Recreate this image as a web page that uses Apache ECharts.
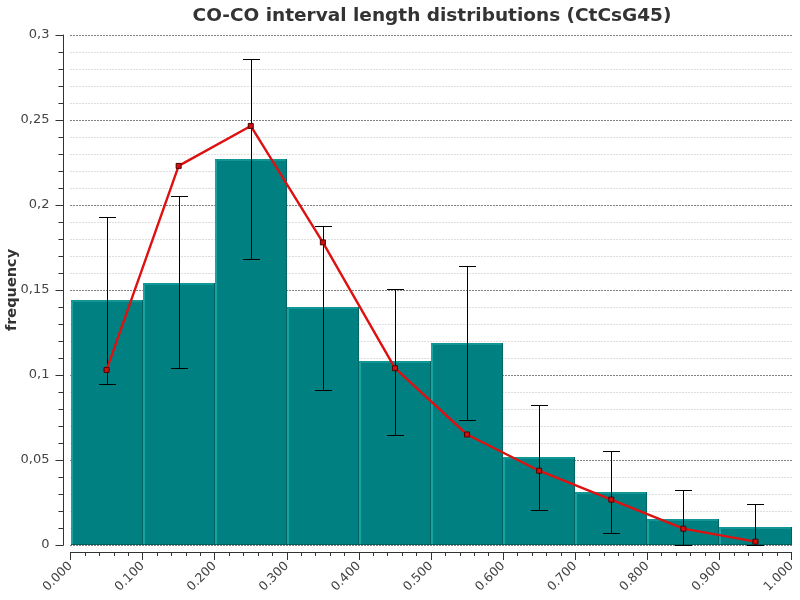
<!DOCTYPE html>
<html>
<head>
<meta charset="utf-8">
<script src="https://cdn.jsdelivr.net/npm/echarts@6/dist/echarts.min.js"></script>
<style>html,body{margin:0;padding:0;background:#fff}#c{width:800px;height:600px}</style>
</head>
<body>
<div id="c"></div>
<script>
var binStart = [0.0, 0.1, 0.2, 0.3, 0.4, 0.5, 0.6, 0.7, 0.8, 0.9];
var binEnd   = [0.1, 0.2, 0.3, 0.4, 0.5, 0.6, 0.7, 0.8, 0.9, 1.0];
var binCenter = [0.05, 0.15, 0.25, 0.35, 0.45, 0.55, 0.65, 0.75, 0.85, 0.95];
var frequency = [0.144, 0.154, 0.227, 0.140, 0.108, 0.119, 0.052, 0.031, 0.0155, 0.0105];
var modelValues = [0.103, 0.223, 0.2465, 0.178, 0.104, 0.065, 0.0437, 0.0267, 0.0096, 0.0020];
var errLow  = [0.0947, 0.1039, 0.168, 0.091, 0.0645, 0.0733, 0.0204, 0.0069, 0.0, 0.0];
var errHigh = [0.1928, 0.2053, 0.2857, 0.1875, 0.1508, 0.164, 0.0822, 0.0551, 0.0322, 0.0239];
var titleText = 'CO-CO interval length distributions (CtCsG45)';
var yName = 'frequency';

var barData = binStart.map(function (s, i) { return [s, binEnd[i], frequency[i]]; });
var errData = binCenter.map(function (c, i) { return [c, errLow[i], errHigh[i]]; });
var lineData = binCenter.map(function (c, i) { return [c, modelValues[i]]; });

var chart = echarts.init(document.getElementById('c'), null, {renderer: 'canvas'});
var font = 'DejaVu Sans';
chart.setOption({
  animation: false,
  backgroundColor: '#fff',
  title: {
    text: titleText,
    left: 427, top: 2, textAlign: 'center',
    textStyle: {fontFamily: font, fontWeight: 'bold', fontSize: 18.5, color: '#333'}
  },
  grid: {left: 70.5, right: 8.5, top: 35, bottom: 55, containLabel: false, outerBoundsMode: 'none'},
  xAxis: {
    type: 'value', min: 0, max: 1, interval: 0.1, offset: 7,
    axisLine: {show: true, onZero: false, lineStyle: {color: '#333', width: 1}},
    axisTick: {show: true, length: 8, lineStyle: {color: '#333'}},
    minorTick: {show: true, splitNumber: 5, length: 4, lineStyle: {color: '#333'}},
    splitLine: {show: false},
    axisLabel: {
      rotate: 45, margin: 12, fontFamily: font, fontSize: 12.5, color: '#444',
      formatter: function (v) { return v.toFixed(3); }
    }
  },
  yAxis: {
    type: 'value', min: 0, max: 0.3, interval: 0.05, offset: 7,
    name: yName, nameLocation: 'middle', nameGap: 44, nameRotate: 90, nameMoveOverlap: false,
    nameTextStyle: {fontFamily: font, fontWeight: 'bold', fontSize: 14.5, color: '#333'},
    axisLine: {show: true, onZero: false, lineStyle: {color: '#333', width: 1}},
    axisTick: {show: true, length: 8, lineStyle: {color: '#333'}},
    minorTick: {show: true, splitNumber: 5, length: 5, lineStyle: {color: '#333'}},
    splitLine: {show: true, lineStyle: {color: '#000', type: [1, 2], width: 1}},
    minorSplitLine: {show: true, lineStyle: {color: '#bdbdbd', type: [1, 2], width: 1}},
    axisLabel: {
      margin: 14, fontFamily: font, fontSize: 13, color: '#444',
      formatter: function (v) { return String(+v.toFixed(4)).replace('.', ','); }
    }
  },
  series: [
    {
      type: 'custom', name: 'bars', z: 2,
      data: barData,
      encode: {x: [0, 1], y: 2},
      renderItem: function (params, api) {
        var p0 = api.coord([api.value(0), api.value(2)]);
        var p1 = api.coord([api.value(1), 0]);
        var x0 = Math.round(p0[0]), y0 = Math.round(p0[1]);
        var x1 = Math.round(p1[0]), y1 = Math.round(p1[1]);
        return {
          type: 'group',
          children: [
            {type: 'rect', shape: {x: x0, y: y0, width: x1 - x0, height: y1 - y0},
             style: {fill: '#008080'}},
            {type: 'rect', shape: {x: x0, y: y0, width: 2, height: y1 - y0},
             style: {fill: '#1aa3a3'}},
            {type: 'rect', shape: {x: x0, y: y0, width: x1 - x0, height: 2},
             style: {fill: '#129595'}},
            {type: 'rect', shape: {x: x1 - 1, y: y0, width: 1, height: y1 - y0},
             style: {fill: '#006464'}},
            {type: 'rect', shape: {x: x0, y: y1 - 1, width: x1 - x0, height: 1},
             style: {fill: '#006060'}}
          ]
        };
      }
    },
    {
      type: 'custom', name: 'errors', z: 3,
      data: errData,
      encode: {x: 0, y: [1, 2]},
      renderItem: function (params, api) {
        var lo = api.coord([api.value(0), api.value(1)]);
        var hi = api.coord([api.value(0), api.value(2)]);
        var x = Math.round(lo[0]) + 0.5;
        var yl = Math.round(lo[1]) + 0.5, yh = Math.round(hi[1]) + 0.5;
        var w = 8.5;
        var st = {stroke: '#000', lineWidth: 1};
        return {
          type: 'group',
          children: [
            {type: 'line', shape: {x1: x, y1: yl, x2: x, y2: yh}, style: st},
            {type: 'line', shape: {x1: x - w, y1: yl, x2: x + w, y2: yl}, style: st},
            {type: 'line', shape: {x1: x - w, y1: yh, x2: x + w, y2: yh}, style: st}
          ]
        };
      }
    },
    {
      type: 'line', name: 'model', z: 4,
      data: lineData,
      lineStyle: {color: '#dd1111', width: 2.4},
      symbol: 'rect', symbolSize: 5, showAllSymbol: true,
      itemStyle: {color: '#d01010', borderColor: '#500000', borderWidth: 1}
    }
  ]
});
</script>
</body>
</html>
